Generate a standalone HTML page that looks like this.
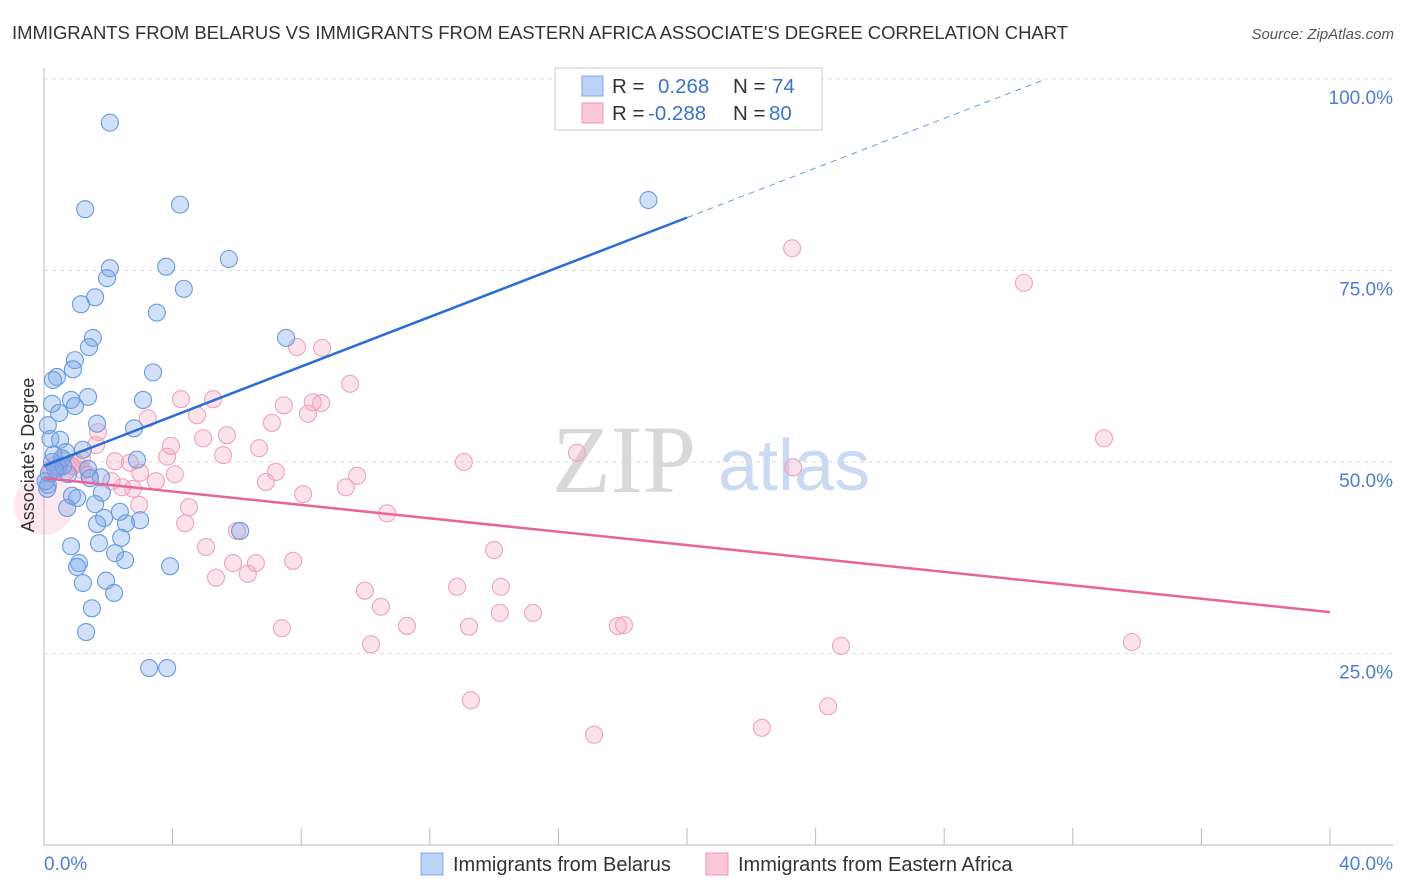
<!DOCTYPE html>
<html><head><meta charset="utf-8"><style>
body{margin:0;background:#fff;font-family:"Liberation Sans",sans-serif}
svg{display:block}
</style></head><body>
<svg id="chart" width="1406" height="892" xmlns="http://www.w3.org/2000/svg">
<text x="12" y="39" font-size="18.5" fill="#333" textLength="1056">IMMIGRANTS FROM BELARUS VS IMMIGRANTS FROM EASTERN AFRICA ASSOCIATE'S DEGREE CORRELATION CHART</text>
<text x="1394" y="39" font-size="15" fill="#555" font-style="italic" text-anchor="end">Source: ZipAtlas.com</text>
<g>
<text x="552" y="492" font-size="96" font-family="Liberation Serif,serif" fill="#d8d8d8">ZIP</text>
<text x="718" y="490" font-size="72" fill="#c9daf2">atlas</text>
</g>
<g id="grid"></g>
<g id="axes"></g>
<g id="pts"></g>
<g id="lines"></g>
<text x="34" y="455" font-size="18" fill="#333" text-anchor="middle" transform="rotate(-90 34 455)">Associate's Degree</text>
<g>
<rect x="555" y="68" width="267" height="62" fill="#fff" stroke="#ccc"/>
<rect x="582" y="76" width="21" height="20" fill="#b9d2f5" stroke="#7da6e3"/>
<rect x="582" y="103" width="21" height="20" fill="#fac8d6" stroke="#ee9ab6"/>
<text x="612" y="93" font-size="20.5" fill="#333">R = <tspan x="658" fill="#3a74d0">0.268</tspan><tspan x="733" fill="#333">N = </tspan><tspan x="772" fill="#3a74d0">74</tspan></text>
<text x="612" y="120" font-size="20.5" fill="#333">R = <tspan x="648" fill="#3a74d0">-0.288</tspan><tspan x="733" fill="#333">N = </tspan><tspan x="769" fill="#3a74d0">80</tspan></text>
</g>
<g>
<rect x="421" y="853" width="22" height="22" fill="#b9d2f5" stroke="#7da6e3"/>
<text x="453" y="871" font-size="20" fill="#333">Immigrants from Belarus</text>
<rect x="706" y="853" width="22" height="22" fill="#fac8d6" stroke="#ee9ab6"/>
<text x="738" y="871" font-size="20" fill="#333">Immigrants from Eastern Africa</text>
</g>
</svg>
<script>
const yTicks=[25,50,75,100];
const yTickLabels=["25.0%","50.0%","75.0%","100.0%"];
const xTickCount=[0,4,8,12,16,20,24,28,32,36,40];
const belarusX=[2.05,1.28,4.23,18.8,5.75,2.05,3.8,1.96,4.35,1.59,1.15,3.51,1.52,7.53,1.4,0.96,0.9,3.39,0.4,0.28,1.37,0.84,3.08,0.25,0.96,0.47,1.65,2.8,0.12,0.5,1.21,0.68,0.56,2.89,0.25,0.44,1.37,0.75,1.77,1.43,0.12,0.87,1.03,1.8,1.59,0.72,2.36,1.87,2.99,1.65,2.55,6.1,2.4,0.84,1.71,2.21,2.52,1.09,1.03,3.92,1.21,1.93,2.18,1.49,1.31,3.27,3.83,0.15,0.1,0.3,0.6,0.2,0.35,0.05];
const belarusY=[94.3,83.0,83.6,84.2,76.5,75.3,75.5,74.0,72.6,71.5,70.6,69.5,66.2,66.2,65.0,63.3,62.1,61.7,61.1,60.7,58.5,58.1,58.1,57.6,57.3,56.4,55.0,54.4,54.8,52.9,51.6,51.3,50.5,50.3,50.0,49.3,49.1,48.4,48.0,47.9,47.0,45.6,45.3,46.0,44.5,44.0,43.5,42.7,42.4,41.9,42.0,41.0,40.1,39.0,39.4,38.1,37.2,36.8,36.3,36.4,34.2,34.5,32.9,30.9,27.8,23.1,23.1,48.5,46.5,51.0,49.5,53.0,49.0,47.5];
const africaX=[23.27,30.48,7.87,8.65,9.52,4.26,5.26,7.46,8.36,8.62,3.23,4.76,8.21,7.09,1.68,4.95,5.69,32.97,1.62,3.95,6.69,16.58,3.83,5.57,1.18,2.21,2.67,13.06,23.3,0.87,2.99,4.07,7.21,9.74,2.1,3.48,6.9,2.43,2.77,9.39,8.06,2.96,4.51,10.67,4.39,6.0,5.04,14.0,5.88,6.59,7.75,5.35,6.34,12.85,14.21,9.98,10.48,14.18,15.21,7.4,11.29,13.22,17.85,18.04,10.17,24.79,33.84,13.28,24.39,22.33,17.11,0.5,0.34,0.7,1.0,0.2,1.4,0.6,0.9,1.2];
const africaY=[77.9,73.4,65.0,64.9,60.2,58.2,58.2,57.4,57.8,57.7,55.7,56.1,56.3,55.1,53.9,53.1,53.5,53.1,52.2,52.1,51.8,51.2,50.7,50.9,50.4,50.1,49.9,50.0,49.3,49.5,48.6,48.4,48.7,48.2,47.5,47.5,47.4,46.7,46.5,46.7,45.8,44.4,44.1,43.3,42.0,41.0,38.9,38.5,36.8,36.8,37.1,34.9,35.4,33.7,33.7,33.2,31.1,30.3,30.3,28.3,28.6,28.5,28.6,28.7,26.2,26.0,26.5,18.9,18.1,15.3,14.4,49.2,49.6,48.8,49.9,49.0,48.3,50.2,49.4,48.9];
const belarusTrend=[49.5,81.9];
const africaTrend=[47.9,30.4];
const NS="http://www.w3.org/2000/svg";
const X0=44,X1=1330,Y0=845,Y100=79;
const sx=v=>X0+(X1-X0)*v/40;
const sy=v=>Y0-(Y0-Y100)*v/100;
function mk(tag,attrs,parent){const e=document.createElementNS(NS,tag);for(const k in attrs)e.setAttribute(k,attrs[k]);document.getElementById(parent).appendChild(e);return e;}
yTicks.forEach((t,i)=>{
 const l=mk('line',{x1:X0,x2:1393,y1:sy(t),y2:sy(t),stroke:'#ddd','stroke-dasharray':'4,4'},'grid');
 
 
 const tx=mk('text',{x:1393,y:sy(t)+25,'font-size':19,fill:'#4a7fd4','text-anchor':'end'},'grid');
 tx.textContent=yTickLabels[i];
 
 
});
const ax=mk('line',{x1:X0,x2:X0,y1:68,y2:Y0,stroke:'#bbb'},'axes');


const bx=mk('line',{x1:X0,x2:1393,y1:Y0,y2:Y0,stroke:'#bbb'},'axes');


xTickCount.forEach(t=>{
 const l=mk('line',{x1:sx(t),x2:sx(t),y1:828,y2:Y0,stroke:'#bbb'},'axes');
 
 
});
const xl0=mk('text',{x:44,y:870,'font-size':19,fill:'#4a7fd4'},'axes');xl0.textContent='0.0%';


const xl1=mk('text',{x:1393,y:870,'font-size':19,fill:'#4a7fd4','text-anchor':'end'},'axes');xl1.textContent='40.0%';


const big=mk('circle',{cx:sx(0),cy:sy(44.4),r:30,fill:'rgba(240,140,170,0.2)',stroke:'none'},'pts');


africaX.forEach((x,i)=>{
 const c=mk('circle',{cx:sx(x),cy:sy(africaY[i]),r:8.5,fill:'rgba(244,160,186,0.3)',stroke:'#eea4bd','stroke-width':1.1},'pts');
 
 
});
belarusX.forEach((x,i)=>{
 const c=mk('circle',{cx:sx(x),cy:sy(belarusY[i]),r:8.5,fill:'rgba(120,165,235,0.35)',stroke:'#6b9ade','stroke-width':1.1},'pts');
 
 
});
const slope=(belarusTrend[1]-belarusTrend[0])/20;
const bl=mk('line',{x1:sx(0),y1:sy(belarusTrend[0]),x2:sx(20),y2:sy(belarusTrend[1]),stroke:'#2a6dd6','stroke-width':2.5},'lines');


const xEnd=(100-belarusTrend[0])/slope;
const bd=mk('line',{x1:sx(20),y1:sy(belarusTrend[1]),x2:sx(xEnd),y2:sy(100),stroke:'#6b9be0','stroke-width':1,'stroke-dasharray':'6,5'},'lines');


const pl=mk('line',{x1:sx(0),y1:sy(africaTrend[0]),x2:sx(40),y2:sy(africaTrend[1]),stroke:'#e8649a','stroke-width':2.5},'lines');


</script>
</body></html>
